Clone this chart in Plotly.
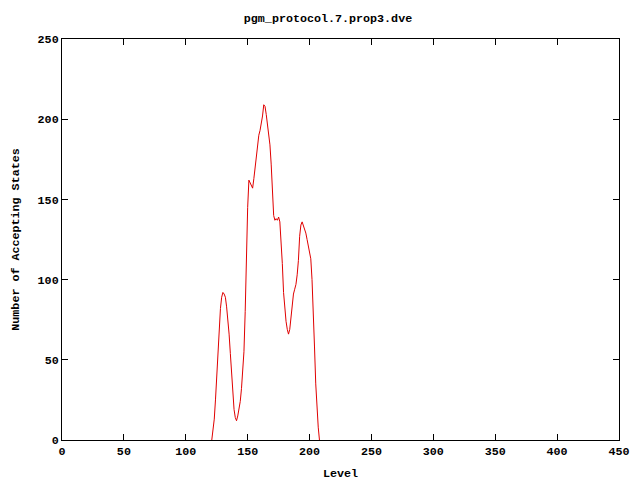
import plotly.graph_objects as go

levels = list(range(121, 209))
accepting = [0, 5, 13, 25, 40, 55, 70, 82, 89, 92,
             91, 89, 83, 76, 66, 54, 41, 28, 19, 14,
             12, 15, 19, 24, 32, 42, 55, 80, 115, 145,
             162, 160, 158, 157, 163, 170, 179, 186, 190, 193,
             197, 202, 209, 208, 203, 196, 191, 184, 172, 155,
             140, 137, 138, 137, 139, 136, 124, 110, 92, 80,
             74, 69, 66, 69, 77, 85, 91, 94, 97, 103,
             112, 127, 134, 136, 134, 132, 129, 125, 120, 115,
             113, 100, 82, 58, 35, 18, 8, 0]

x_ticks = [0, 50, 100, 150, 200, 250, 300, 350, 400, 450]
y_ticks = [0, 50, 100, 150, 200, 250]

font = dict(family="Liberation Mono, DejaVu Sans Mono, monospace", size=11.7, color="black")

fig = go.Figure()
fig.add_trace(go.Scatter(x=levels, y=accepting, mode="lines",
                         line=dict(color="#e00000", width=1), showlegend=False,
                         hoverinfo="skip"))

axis_common = dict(showgrid=False, zeroline=False, showline=True, linecolor="black",
                   linewidth=1, mirror="ticks", ticks="inside", ticklen=6,
                   tickcolor="black", tickwidth=1, tickfont=font)

fig.update_xaxes(range=[0, 450], tickvals=x_ticks,
                 ticktext=["<b>%d</b>" % v for v in x_ticks],
                 title=dict(text="<b>Level</b>", font=font, standoff=10), **axis_common)
fig.update_yaxes(range=[0, 250], tickvals=y_ticks,
                 ticktext=["<b>%d</b>" % v for v in y_ticks],
                 title=dict(text="<b>Number of Accepting States</b>", font=font, standoff=15),
                 **axis_common)

# the page body adds an 8px offset, so margins are relative to that
fig.update_layout(
    width=640, height=480,
    margin=dict(l=54, r=29, t=31, b=48, autoexpand=False),
    paper_bgcolor="white", plot_bgcolor="white",
    title=dict(text="<b>pgm_protocol.7.prop3.dve</b>", x=0.5, xanchor="center",
               y=1 - 10 / 480, yanchor="middle", font=font),
    font=font,
)

fig.write_html("out.html")
